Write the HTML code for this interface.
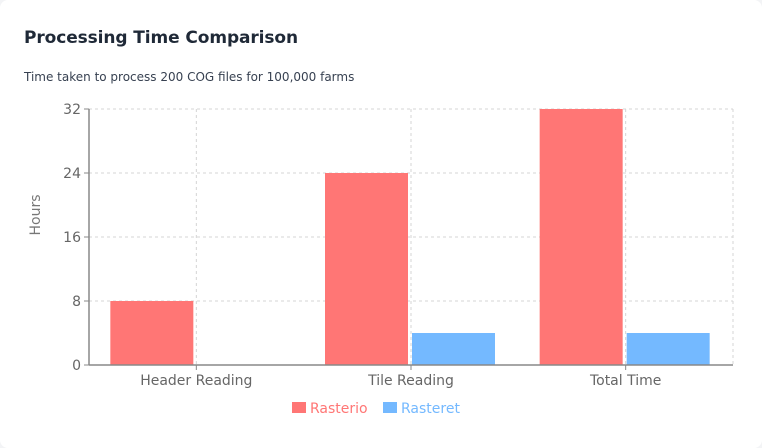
<!DOCTYPE html>
<html><head><meta charset="utf-8"><style>
html,body{margin:0;padding:0;background:#f3f4f6;}
body{width:762px;height:448px;overflow:hidden;font-family:"DejaVu Sans","Liberation Sans",sans-serif;}
.card{position:absolute;left:0;top:0;width:762px;height:448px;background:#fff;border-radius:8px;}
h1{position:absolute;left:24px;top:28px;margin:0;font-size:17px;font-weight:bold;color:#1f2937;letter-spacing:-0.1px;}
p{position:absolute;left:24px;top:70px;margin:0;font-size:12px;color:#374151;}
svg{position:absolute;left:0;top:0;}
</style></head><body>
<div class="card">
<h1>Processing Time Comparison</h1>
<p>Time taken to process 200 COG files for 100,000 farms</p>
<svg id="chart" width="762" height="448"></svg>
</div>
<script>
const categories=["Header Reading","Tile Reading","Total Time"];
const rasterio=[8,24,32];
const rasteret=[0,4,4];
const yTicks=[0,8,16,24,32];
const seriesNames=["Rasterio","Rasteret"];
const colors=["#ff7675","#74b9ff"];
const NS="http://www.w3.org/2000/svg";
const svg=document.getElementById("chart");
const X0=89,X1=733,Y0=365,Y1=109,YMAX=32;
const band=(X1-X0)/categories.length;
const y=v=>Y0-(v/YMAX)*(Y0-Y1);
const cx=i=>X0+band*(i+0.5);
function mk(t,a){const e=document.createElementNS(NS,t);for(const k in a)e.setAttribute(k,a[k]);svg.appendChild(e);return e;}
yTicks.forEach(t=>{
 if(t>0){const g=mk("line",{x1:X0,x2:X1,y1:y(t),y2:y(t),stroke:"#d4d4d4","stroke-dasharray":"3 3"});
 
 }
 const tk=mk("line",{x1:X0-5,x2:X0,y1:y(t),y2:y(t),stroke:"#888"});
 
 
 const tx=mk("text",{x:X0-8,y:y(t)+5,"text-anchor":"end","font-size":"14",fill:"#666"});
 tx.textContent=t;
 
 
});
categories.forEach((c,i)=>{
 const g=mk("line",{x1:cx(i),x2:cx(i),y1:Y1,y2:Y0,stroke:"#d4d4d4","stroke-dasharray":"3 3"});
 
 
});
const gr=mk("line",{x1:X1,x2:X1,y1:Y1,y2:Y0,stroke:"#d4d4d4","stroke-dasharray":"3 3"});


const bw=83;
categories.forEach((c,i)=>{
 [rasterio,rasteret].forEach((s,k)=>{
  const v=s[i];
  const x=k===0?cx(i)-3-bw:cx(i)+1;
  const r=mk("rect",{x:x,y:y(v),width:bw,height:Y0-y(v),fill:colors[k]});
  
  
 });
 const tk=mk("line",{x1:cx(i),x2:cx(i),y1:Y0,y2:Y0+5,stroke:"#888"});
 
 
 const tx=mk("text",{x:cx(i),y:Y0+20,"text-anchor":"middle","font-size":"14",fill:"#666"});
 tx.textContent=c;
 
 
});
const ax=mk("line",{x1:X0,x2:X0,y1:Y1,y2:Y0,stroke:"#888","stroke-width":1.5});


const bx=mk("line",{x1:X0,x2:X1,y1:Y0,y2:Y0,stroke:"#888","stroke-width":1.5});


const yt=mk("text",{x:0,y:0,transform:"translate(40,215) rotate(-90)","text-anchor":"middle","font-size":"14",fill:"#777"});
yt.textContent="Hours";


const lx=[292,383];
seriesNames.forEach((n,k)=>{
 const r=mk("rect",{x:lx[k],y:402,width:14,height:11,fill:colors[k]});
 
 
 const t=mk("text",{x:lx[k]+18,y:413,"font-size":"14",fill:colors[k]});
 t.textContent=n;
 
 
});
</script>
</body></html>
